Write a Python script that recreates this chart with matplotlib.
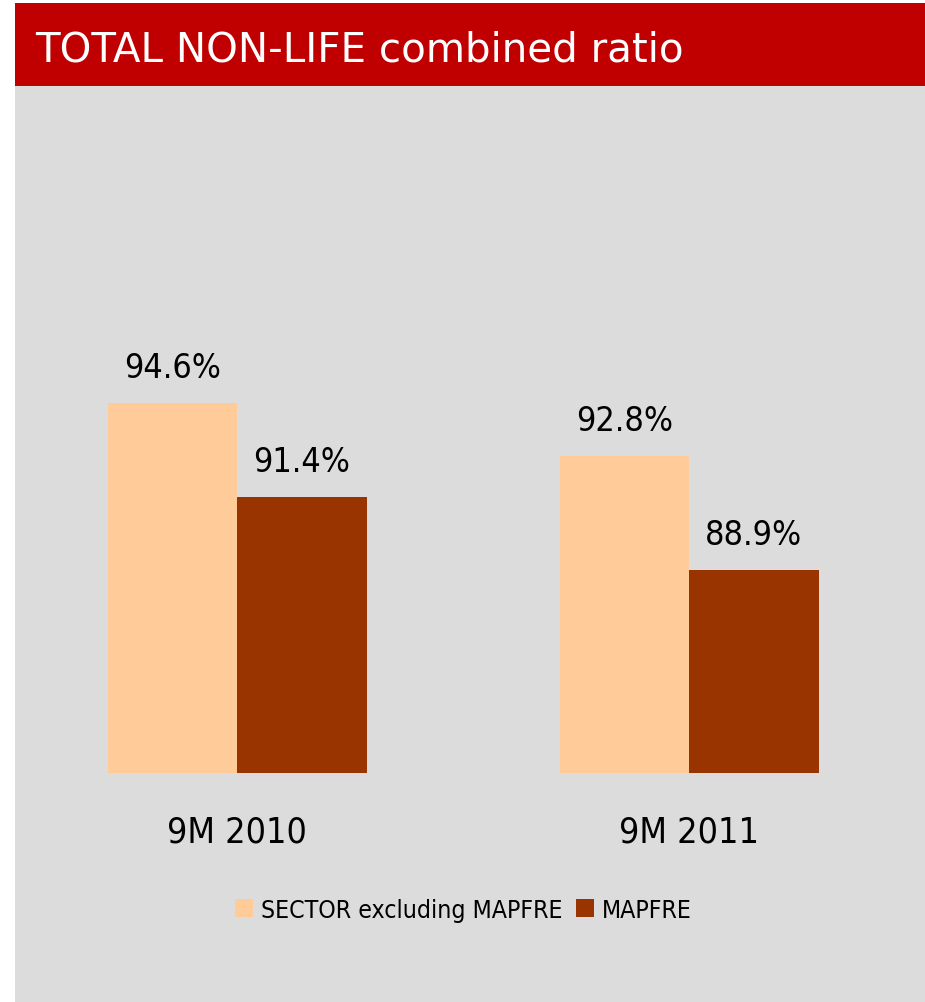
import matplotlib
matplotlib.use('Agg')
import matplotlib.pyplot as plt
from matplotlib.patches import Rectangle, Patch
import numpy as np

# ---- data ----
title = 'TOTAL NON-LIFE combined ratio'
categories = ['9M 2010', '9M 2011']
series_names = ['SECTOR excluding MAPFRE', 'MAPFRE']
sector_values = [94.6, 92.8]
mapfre_values = [91.4, 88.9]

# ---- style ----
FONT = ['DejaVu Sans']
STRETCH = 'condensed'
c_sector = '#FFCC99'
c_mapfre = '#993300'
c_red = '#C00000'
c_gray = '#DCDCDC'

W, H = 925, 1003
fig = plt.figure(figsize=(W / 100, H / 100), dpi=100)
fig.patch.set_facecolor('white')

# background panels
fig.patches.append(Rectangle((15 / W, 0), 910 / W, (H - 87) / H,
                             transform=fig.transFigure, facecolor=c_gray,
                             edgecolor='none', zorder=-2))
fig.patches.append(Rectangle((15 / W, (H - 87) / H), 910 / W, 83 / H,
                             transform=fig.transFigure, facecolor=c_red,
                             edgecolor='none', zorder=-2))
fig.text(35 / W, 1 - 62 / H, title, color='white', fontsize=29.1,
         family=FONT, ha='left', va='baseline')

# axes
base_px = 773.5
top_px = 87
ppu = 29.3           # pixels per unit
ax = fig.add_axes([15 / W, (H - base_px) / H, 910 / W, (base_px - top_px) / H])
ax.set_facecolor('none')
ax.set_zorder(1)
for s in ax.spines.values():
    s.set_visible(False)
ax.set_xticks([])
ax.set_yticks([])

group_px = 452
x0 = -(237 - 15) / group_px
ax.set_xlim(x0, x0 + 910 / group_px)
ax.set_ylim(82, 82 + (base_px - top_px) / ppu)

x = np.arange(len(categories))
w = 129.5 / group_px
ax.bar(x - w / 2, sector_values, w, color=c_sector, label=series_names[0])
ax.bar(x + w / 2, mapfre_values, w, color=c_mapfre, label=series_names[1])

off = 26 * 0.72
lab_fs = 24.5
for xi, v in zip(x - w / 2, sector_values):
    ax.annotate(f'{v:.1f}%', (xi, v), xytext=(0, off), textcoords='offset points',
                ha='center', va='baseline', fontsize=lab_fs, family=FONT,
                fontstretch=STRETCH, color='black', annotation_clip=False)
for xi, v in zip(x + w / 2, mapfre_values):
    ax.annotate(f'{v:.1f}%', (xi, v), xytext=(0, off), textcoords='offset points',
                ha='center', va='baseline', fontsize=lab_fs, family=FONT,
                fontstretch=STRETCH, color='black', annotation_clip=False)

for xi, c in zip(x, categories):
    ax.annotate(c, (xi, 0), xycoords=('data', 'axes fraction'),
                xytext=(0, -69.5 * 0.72), textcoords='offset points',
                ha='center', va='baseline', fontsize=25.7, family=FONT,
                fontstretch=STRETCH, color='black', annotation_clip=False)

fs = 17.8
handles = [Patch(facecolor=c_sector), Patch(facecolor=c_mapfre)]
fig.legend(handles, series_names, loc='center',
           bbox_to_anchor=(463.5 / W, 1 - 911 / H), ncol=2, frameon=False,
           prop={'family': FONT, 'size': fs, 'stretch': STRETCH},
           handlelength=12.96 / fs, handleheight=12.96 / fs,
           handletextpad=5.76 / fs, columnspacing=9.36 / fs,
           borderpad=0, borderaxespad=0)

fig.savefig('out.png', dpi=100, facecolor='white')
